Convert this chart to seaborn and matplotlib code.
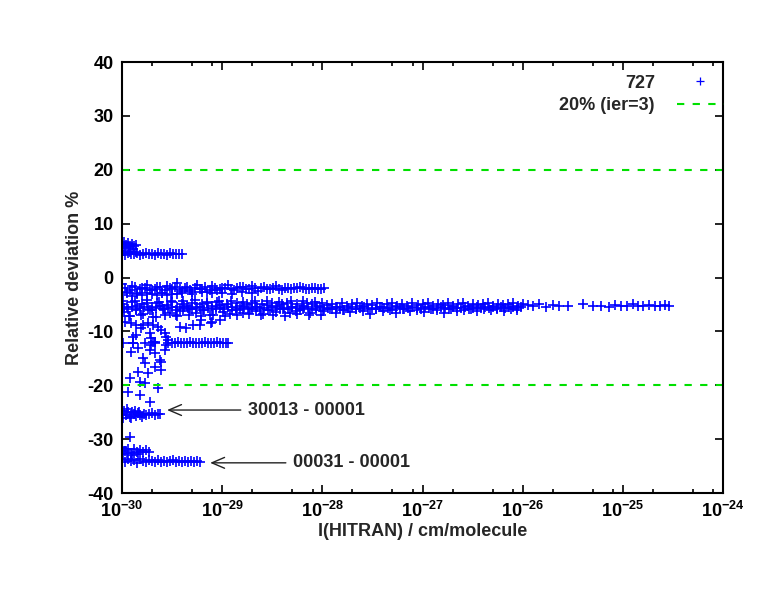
import numpy as np
import pandas as pd
import matplotlib
matplotlib.use("Agg")
import matplotlib.pyplot as plt
import seaborn as sns
from matplotlib.lines import Line2D
from matplotlib.ticker import FixedLocator, LogLocator, NullFormatter, FuncFormatter

# Bandes de points : log10(I HITRAN) et écart relatif (%)
band_a_logI = [-30.00, -29.98, -29.96, -29.94, -29.92, -29.90, -29.88, -29.86, -29.97, -29.93, -29.89]
band_a_dev = [6.3, 6.6, 6.1, 6.4, 5.8, 6.2, 5.9, 6.0, 5.4, 5.6, 5.3]

band_b_logI = [-30.00, -29.97, -29.94, -29.91, -29.88, -29.85, -29.82, -29.79, -29.76, -29.73, -29.70, -29.67,
               -29.64, -29.61, -29.58, -29.55, -29.52, -29.49, -29.46, -29.43, -29.40, -29.98, -29.92, -29.86]
band_b_dev = [4.6, 4.2, 4.5, 4.3, 4.4, 4.6, 4.2, 4.4, 4.5, 4.3, 4.4, 4.2,
              4.5, 4.3, 4.4, 4.2, 4.5, 4.3, 4.4, 4.3, 4.4, 4.9, 4.8, 4.7]

band_c_logI = [-30.00, -29.95, -29.90, -29.85, -29.80, -29.75, -29.70, -29.65, -29.60, -29.55,
               -29.50, -29.45, -29.40, -29.35, -29.30, -29.25, -29.20, -29.15, -29.10, -29.05,
               -29.00, -28.94, -28.88, -28.82, -28.76, -28.70, -28.64, -28.58, -28.52, -28.46,
               -28.40, -28.34, -28.28, -28.22, -28.16, -28.10, -28.04, -27.98]
band_c_dev = [-1.2, -2.6, -1.6, -2.9, -1.9, -1.3, -2.4, -1.7, -2.8, -1.5,
              -2.2, -1.1, -2.5, -1.8, -2.7, -1.4, -2.1, -2.6, -1.6, -2.3,
              -1.9, -1.3, -2.4, -1.7, -2.2, -1.5, -2.5, -1.8, -2.1, -1.6,
              -2.3, -1.9, -2.0, -1.8, -2.2, -1.9, -2.1, -2.0]

band_c2_logI = [-30.00, -29.95, -29.90, -29.85, -29.80, -29.75, -29.70, -29.65, -29.60, -29.55,
                -29.50, -29.45, -29.40, -29.30, -29.20, -29.10, -29.00, -28.90, -28.80, -28.70]
band_c2_dev = [-3.2, -2.9, -3.4, -3.0, -3.3, -2.8, -3.1, -3.2, -2.9, -3.3,
               -3.0, -3.1, -2.8, -3.0, -2.7, -2.9, -2.8, -3.0, -2.7, -2.8]

band_c3_logI = [-29.97, -29.92, -29.87, -29.82, -29.77, -29.72, -29.67, -29.62, -29.57, -29.52,
                -29.47, -29.42, -29.37, -29.32, -29.27, -29.22, -29.17, -29.12, -29.07, -29.02,
                -28.97, -28.91, -28.85, -28.79, -28.73, -28.67, -28.61, -28.55, -28.49, -28.43,
                -28.37, -28.31, -28.25, -28.19, -28.13, -28.07, -28.01]
band_c3_dev = [-2.0, -2.3, -1.8, -2.2, -1.9, -2.4, -2.1, -1.7, -2.3, -2.0,
               -1.8, -2.2, -2.0, -2.4, -1.9, -2.1, -1.8, -2.3, -2.0, -2.2,
               -1.9, -2.1, -2.0, -1.8, -2.2, -2.0, -1.9, -2.1, -2.0, -2.2,
               -1.9, -2.1, -2.0, -1.9, -2.1, -2.0, -2.1]

band_d1_logI = [-30.00, -29.95, -29.90, -29.85, -29.80, -29.75, -29.70, -29.65, -29.60, -29.55,
                -29.50, -29.45, -29.40, -29.35, -29.30, -29.25, -29.20, -29.15, -29.10, -29.05,
                -29.00, -28.95, -28.90, -28.85, -28.80, -28.75, -28.70, -28.65, -28.60, -28.55,
                -28.50, -28.45, -28.40, -28.35, -28.30, -28.25, -28.20, -28.15, -28.10, -28.05,
                -28.00, -27.95, -27.90, -27.85, -27.80, -27.75, -27.70, -27.65, -27.60, -27.55,
                -27.50, -27.45, -27.40, -27.35, -27.30, -27.25, -27.20, -27.15, -27.10, -27.05,
                -27.00, -26.95, -26.90, -26.85, -26.80, -26.75, -26.70, -26.65, -26.60, -26.55,
                -26.50, -26.45, -26.40, -26.35, -26.30, -26.25, -26.20, -26.15, -26.10, -26.05,
                -26.00, -25.95]
band_d1_dev = [-4.9, -5.4, -4.6, -5.2, -5.0, -4.7, -5.5, -4.8, -5.3, -5.1,
               -4.6, -5.4, -4.9, -5.2, -4.7, -5.5, -5.0, -4.8, -5.3, -4.6,
               -5.1, -4.9, -5.4, -4.7, -5.2, -5.0, -4.8, -5.5, -4.9, -5.1,
               -4.7, -5.3, -5.0, -4.8, -5.4, -4.9, -5.2, -4.7, -5.0, -5.3,
               -4.8, -5.1, -4.9, -5.4, -4.7, -5.2, -5.0, -4.8, -5.3, -4.9,
               -5.1, -4.7, -5.4, -5.0, -4.8, -5.2, -4.9, -5.3, -4.7, -5.1,
               -5.0, -4.8, -5.3, -4.9, -5.1, -4.7, -5.2, -5.0, -4.8, -5.3,
               -4.9, -5.1, -5.0, -4.8, -5.2, -4.9, -5.1, -5.0, -4.8, -5.2,
               -5.0, -5.1]

band_d2_logI = [-29.98, -29.92, -29.86, -29.79, -29.72, -29.66, -29.59, -29.52, -29.46, -29.39,
                -29.32, -29.26, -29.19, -29.12, -29.06, -28.99, -28.92, -28.86, -28.79, -28.72,
                -28.66, -28.59, -28.52, -28.46, -28.39, -28.32, -28.26, -28.19, -28.12, -28.06,
                -27.99, -27.92, -27.86, -27.79, -27.72, -27.66, -27.59, -27.52, -27.46, -27.39,
                -27.32, -27.26, -27.19, -27.12, -27.06, -26.99, -26.92, -26.86, -26.79, -26.72,
                -26.66, -26.59, -26.52, -26.46, -26.39, -26.32, -26.26, -26.19, -26.12, -26.06]
band_d2_dev = [-6.4, -7.1, -5.8, -6.7, -6.1, -7.3, -5.9, -6.5, -6.9, -6.2,
               -5.8, -6.6, -6.1, -7.0, -5.9, -6.4, -6.8, -6.0, -6.5, -5.8,
               -6.3, -6.7, -6.0, -6.4, -5.9, -6.6, -6.2, -5.8, -6.5, -6.1,
               -6.3, -5.9, -6.6, -6.0, -6.4, -5.8, -6.2, -6.7, -5.9, -6.3,
               -6.0, -6.5, -5.8, -6.2, -6.0, -6.4, -5.9, -6.1, -6.6, -5.8,
               -6.2, -6.0, -5.9, -6.3, -5.8, -6.1, -5.9, -6.2, -5.8, -6.0]

band_d3_logI = [-25.90, -25.84, -25.77, -25.70, -25.64, -25.55, -25.40, -25.30, -25.22, -25.14, -25.08,
                -25.02, -24.96, -24.90, -24.85, -24.80, -24.74, -24.68, -24.63, -24.58, -24.54]
band_d3_dev = [-5.3, -5.0, -5.4, -5.1, -5.3, -5.2, -5.0, -5.3, -5.2, -5.4, -5.1,
               -5.3, -5.2, -5.0, -5.3, -5.2, -5.1, -5.3, -5.2, -5.1, -5.2]

band_d4_logI = [-29.98, -29.94, -29.90, -29.86, -29.82, -29.78, -29.74, -29.70, -29.66, -29.62,
                -29.58, -29.54, -29.50, -29.46, -29.42, -29.38, -29.34, -29.30, -29.26, -29.22,
                -29.18, -29.14, -29.10, -29.06, -29.02, -28.98, -28.94, -28.90, -28.86, -28.82,
                -28.78, -28.74, -28.70, -28.66, -28.62, -28.58, -28.54, -28.50, -28.46, -28.42,
                -28.38, -28.34, -28.30, -28.26, -28.22, -28.18, -28.14, -28.10, -28.06, -28.02,
                -27.98, -27.94, -27.90, -27.86, -27.82, -27.78, -27.74, -27.70, -27.66, -27.62,
                -27.58, -27.54, -27.50, -27.46, -27.42, -27.38, -27.34, -27.30, -27.26, -27.22,
                -27.18, -27.14, -27.10, -27.06, -27.02, -26.98, -26.94, -26.90, -26.86, -26.82,
                -26.78, -26.74, -26.70, -26.66, -26.62, -26.58, -26.54, -26.50, -26.46, -26.42,
                -26.38, -26.34, -26.30, -26.26, -26.22, -26.18, -26.14, -26.10, -26.06, -26.02]
band_d4_dev = [-5.6, -5.9, -5.4, -6.0, -5.7, -5.5, -5.8, -6.1, -5.6, -5.3,
               -5.9, -5.7, -5.5, -6.0, -5.8, -5.4, -5.6, -5.9, -5.7, -5.5,
               -6.0, -5.6, -5.8, -5.4, -5.7, -5.9, -5.5, -6.1, -5.6, -5.8,
               -5.4, -5.7, -5.9, -5.5, -5.8, -5.6, -6.0, -5.4, -5.7, -5.9,
               -5.6, -5.8, -5.5, -5.7, -6.0, -5.6, -5.4, -5.8, -5.7, -5.5,
               -5.9, -5.6, -5.8, -5.5, -5.7, -6.0, -5.6, -5.4, -5.8, -5.7,
               -5.5, -5.9, -5.6, -5.8, -5.4, -5.7, -5.6, -5.9, -5.5, -5.7,
               -5.8, -5.6, -5.4, -5.7, -5.9, -5.5, -5.6, -5.8, -5.7, -5.5,
               -5.6, -5.8, -5.4, -5.7, -5.6, -5.5, -5.8, -5.6, -5.4, -5.7,
               -5.5, -5.6, -5.4, -5.7, -5.5, -5.6, -5.4, -5.5, -5.6, -5.4]

band_d5_logI = [-29.99, -29.93, -29.87, -29.81, -29.75, -29.69, -29.63, -29.57, -29.51, -29.45,
                -29.39, -29.33, -29.27, -29.21, -29.15, -29.09, -29.03, -28.97, -28.91, -28.85,
                -28.79, -28.73, -28.67, -28.61, -28.55, -28.49, -28.43, -28.37, -28.31, -28.25,
                -28.19, -28.13, -28.07, -28.01]
band_d5_dev = [-4.3, -7.2, -4.4, -7.0, -4.2, -7.4, -4.5, -6.9, -4.3, -7.1,
               -4.4, -7.0, -4.2, -7.2, -4.5, -6.9, -4.3, -7.1, -4.4, -7.0,
               -4.5, -6.8, -4.3, -7.0, -4.4, -6.9, -4.5, -7.1, -4.3, -6.8,
               -4.4, -7.0, -4.5, -6.9]

scatter_logI = [-29.97, -29.91, -29.86, -29.79, -29.74, -29.69, -29.64, -29.81, -29.72, -29.61,
                -29.57, -29.56, -29.54, -29.71, -29.69, -29.86, -29.89, -29.89, -29.84, -29.71,
                -29.67, -29.56, -29.57, -29.72, -29.67, -29.91, -29.79, -29.77, -29.74, -29.62,
                -29.61, -29.67, -29.61, -29.84, -29.92, -29.82, -29.77, -29.64, -29.94, -29.82,
                -29.72, -29.42, -29.36, -29.29, -29.22, -29.21, -29.11, -29.02, -29.10]
scatter_dev = [-8.2, -8.4, -8.8, -8.8, -8.4, -8.8, -9.2, -9.4, -10.3, -9.7,
               -10.3, -11.0, -11.6, -11.2, -11.9, -10.6, -11.0, -12.1, -13.1, -12.5,
               -12.1, -12.5, -13.4, -13.4, -14.0, -13.8, -14.9, -15.8, -17.7, -15.3,
               -15.7, -16.6, -17.1, -17.5, -18.6, -19.4, -19.6, -20.5, -21.2, -21.8,
               -23.1, -9.2, -9.4, -8.8, -8.8, -7.9, -8.4, -7.9, -8.2]

band_e_logI = [-29.99, -29.89, -29.77, -29.67, -29.54, -29.50, -29.47, -29.44, -29.41, -29.38,
               -29.35, -29.32, -29.29, -29.26, -29.23, -29.20, -29.17, -29.14, -29.11, -29.08,
               -29.05, -29.02, -28.99, -28.96, -28.94]
band_e_dev = [-12.1, -12.2, -12.1, -12.0, -12.1, -12.2, -12.1, -12.0, -12.1, -12.2,
              -12.1, -12.0, -12.1, -12.2, -12.1, -12.1, -12.0, -12.2, -12.1, -12.1,
              -12.0, -12.1, -12.2, -12.1, -12.1]

band_f_logI = [-30.00, -29.98, -29.96, -29.94, -29.92, -29.90, -29.88, -29.86, -29.84, -29.82,
               -29.80, -29.78, -29.76, -29.73, -29.70, -29.67, -29.64, -29.62, -29.99, -29.95,
               -29.91, -29.87, -29.83]
band_f_dev = [-25.3, -24.7, -25.6, -25.0, -25.8, -24.9, -25.4, -25.7, -25.2, -25.5,
              -25.9, -25.3, -25.6, -25.4, -25.2, -25.5, -25.3, -25.4, -26.1, -24.5,
              -26.0, -24.8, -25.0]

band_g1_logI = [-30.00, -29.97, -29.94, -29.91, -29.88, -29.85, -29.82, -29.79, -29.76, -29.73,
                -29.99, -29.95, -29.90, -29.84, -30.00, -29.92]
band_g1_dev = [-31.6, -32.2, -31.8, -32.5, -31.9, -32.3, -32.0, -32.4, -32.1, -32.3,
               -32.8, -32.6, -32.9, -32.7, -31.4, -29.6]

band_g2_logI = [-30.00, -29.97, -29.94, -29.91, -29.88, -29.85, -29.82, -29.79, -29.76, -29.73,
                -29.70, -29.67, -29.64, -29.61, -29.58, -29.55, -29.52, -29.49, -29.46, -29.43,
                -29.40, -29.37, -29.34, -29.31, -29.28, -29.25, -29.22]
band_g2_dev = [-33.9, -34.3, -33.6, -34.1, -33.8, -34.4, -33.7, -34.0, -34.2, -33.9,
               -34.1, -34.3, -33.8, -34.2, -34.0, -34.3, -34.1, -33.9, -34.2, -34.0,
               -34.3, -34.1, -34.2, -34.0, -34.3, -34.1, -34.2]

limit_pct = 20
legend_labels = ["727", "20% (ier=3)"]
annot_texts = ["30013 - 00001", "00031 - 00001"]
annot_tip_logI = [-29.55, -29.12]
annot_text_logI = [-28.74, -28.29]
annot_dev = [-24.6, -34.4]

all_logI = (band_a_logI + band_b_logI + band_c_logI + band_c2_logI + band_c3_logI
            + band_d1_logI + band_d2_logI + band_d3_logI + band_d4_logI + band_d5_logI
            + scatter_logI + band_e_logI + band_f_logI + band_g1_logI + band_g2_logI)
all_dev = (band_a_dev + band_b_dev + band_c_dev + band_c2_dev + band_c3_dev
           + band_d1_dev + band_d2_dev + band_d3_dev + band_d4_dev + band_d5_dev
           + scatter_dev + band_e_dev + band_f_dev + band_g1_dev + band_g2_dev)
df = pd.DataFrame({"intensity": 10.0 ** np.array(all_logI), "deviation": all_dev})

sns.set_style("ticks")
plt.rcParams["font.family"] = ["Liberation Sans", "DejaVu Sans"]
plt.rcParams["axes.unicode_minus"] = False
plt.rcParams["mathtext.fontset"] = "custom"
plt.rcParams["mathtext.rm"] = "Liberation Sans:bold"
plt.rcParams["mathtext.bf"] = "Liberation Sans:bold"
plt.rcParams["mathtext.it"] = "Liberation Sans:bold"

BLUE = "#0000ff"
GREEN = "#00e000"
FS = 13

fig = plt.figure(figsize=(7.63, 5.90), dpi=100)
ax = fig.add_axes([0.1599, 0.1644, 0.7877, 0.7305])

sns.scatterplot(data=df, x="intensity", y="deviation", marker="+", color=BLUE,
                s=45, linewidth=1.2, ax=ax, legend=False)

for y in (limit_pct, -limit_pct):
    ax.axhline(y, color=GREEN, lw=1.5, dashes=(3.5, 4))

ax.set_xscale("log")
ax.set_xlim(1e-30, 1e-24)
ax.set_ylim(-40, 40)
ax.xaxis.set_major_locator(FixedLocator([10.0 ** k for k in range(-30, -23)]))
ax.xaxis.set_minor_locator(LogLocator(base=10, subs=(2, 5, 8), numticks=20))
ax.xaxis.set_minor_formatter(NullFormatter())
ax.xaxis.set_major_formatter(FuncFormatter(lambda v, p: r"$\mathbf{10^{%d}}$" % round(np.log10(v))))
ax.set_yticks(range(-40, 41, 10))

ax.tick_params(which="both", direction="in", top=True, right=True, width=1.2, colors="black")
ax.tick_params(which="major", length=6, labelsize=FS)
ax.tick_params(which="minor", length=3)
ax.tick_params(axis="y", pad=6)
ax.tick_params(axis="x", pad=6)
for lab in ax.get_yticklabels():
    lab.set_fontweight("bold")
    lab.set_verticalalignment("center_baseline")
for sp in ax.spines.values():
    sp.set_linewidth(1.5)
    sp.set_color("black")

ax.set_xlabel("I(HITRAN) / cm/molecule", fontsize=FS, fontweight="bold", labelpad=1)
ax.set_ylabel("Relative deviation %", fontsize=FS, fontweight="bold", labelpad=3)

for txt, tip, start, dev in zip(annot_texts, annot_tip_logI, annot_text_logI, annot_dev):
    ax.annotate(txt, xy=(10.0 ** tip, dev), xytext=(10.0 ** start, dev),
                fontsize=FS, fontweight="bold", va="center", ha="left",
                arrowprops=dict(arrowstyle="->,head_length=0.7,head_width=0.3",
                                color="#222222", lw=1.0, shrinkA=3, shrinkB=0))

handles = [Line2D([], [], marker="+", color=BLUE, linestyle="none", markersize=6, markeredgewidth=0.9),
           Line2D([], [], color=GREEN, lw=1.5, dashes=(3.5, 4))]
ax.legend(handles, legend_labels, loc="upper right", bbox_to_anchor=(1.022, 1.0),
          frameon=False, markerfirst=False, prop={"weight": "bold", "size": FS},
          handlelength=2.6, handletextpad=1.2, borderaxespad=0.3, labelspacing=0.3)

fig.savefig("out.png", dpi=100)
